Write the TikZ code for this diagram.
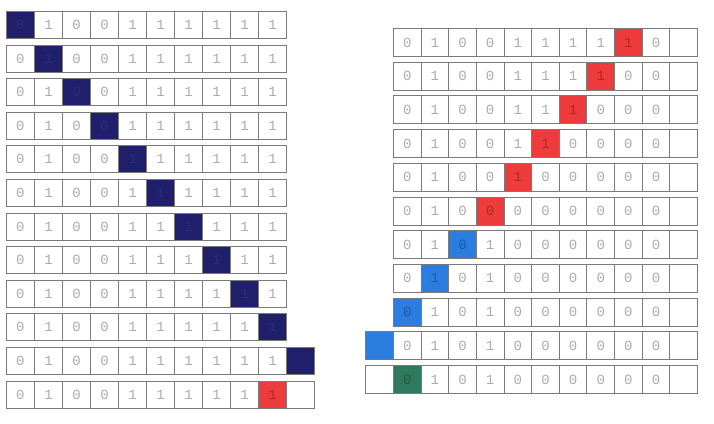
\documentclass[tikz,border=0pt]{standalone}
\usepackage{fontspec}
\newfontfamily\cellfont{Liberation Mono}
\definecolor{navy}{HTML}{1F1F6B}
\definecolor{navytext}{HTML}{2C2C78}
\definecolor{cellred}{HTML}{EE3B3B}
\definecolor{redtext}{HTML}{B02828}
\definecolor{cellblue}{HTML}{2B7DE0}
\definecolor{bluetext}{HTML}{1C5AA8}
\definecolor{cellgreen}{HTML}{2F7A5F}
\definecolor{greentext}{HTML}{225A46}
\definecolor{digit}{HTML}{ABABAB}
\definecolor{framegray}{HTML}{7A7A7A}
\newcommand\leftrow[2]{%
  \foreach \v/\k [count=\c] in {#2} {%
    \node[cell, s\k, minimum width=28pt, minimum height=27pt] (L-#1-\c) at ({6+28*(\c-1)}, {11+33.6*(#1-1)}) {\v};}}
\newcommand\rightrow[3]{%
  \foreach \v/\k [count=\c from #2] in {#3} {%
    \node[cell, s\k, minimum width=27.64pt, minimum height=28pt] (R-#1-\c) at ({365.36+27.64*\c}, {28+33.7*(#1-1)}) {\v};}}
\begin{document}
\begin{tikzpicture}[x=1pt,y=-1pt,
  cell/.style={draw=framegray, line width=0.9pt, inner sep=0pt, anchor=north west,
    font=\cellfont\fontsize{14}{14}\selectfont, text=digit},
  sn/.style={},
  se/.style={},
  sN/.style={fill=navy, text=navytext},
  sR/.style={fill=cellred, text=redtext},
  sB/.style={fill=cellblue, text=bluetext},
  sG/.style={fill=cellgreen, text=greentext}]
\useasboundingbox (0,0) rectangle (714,423);
% left grid
\leftrow{1}{0/N,1/n,0/n,0/n,1/n,1/n,1/n,1/n,1/n,1/n}
\leftrow{2}{0/n,1/N,0/n,0/n,1/n,1/n,1/n,1/n,1/n,1/n}
\leftrow{3}{0/n,1/n,0/N,0/n,1/n,1/n,1/n,1/n,1/n,1/n}
\leftrow{4}{0/n,1/n,0/n,0/N,1/n,1/n,1/n,1/n,1/n,1/n}
\leftrow{5}{0/n,1/n,0/n,0/n,1/N,1/n,1/n,1/n,1/n,1/n}
\leftrow{6}{0/n,1/n,0/n,0/n,1/n,1/N,1/n,1/n,1/n,1/n}
\leftrow{7}{0/n,1/n,0/n,0/n,1/n,1/n,1/N,1/n,1/n,1/n}
\leftrow{8}{0/n,1/n,0/n,0/n,1/n,1/n,1/n,1/N,1/n,1/n}
\leftrow{9}{0/n,1/n,0/n,0/n,1/n,1/n,1/n,1/n,1/N,1/n}
\leftrow{10}{0/n,1/n,0/n,0/n,1/n,1/n,1/n,1/n,1/n,1/N}
\leftrow{11}{0/n,1/n,0/n,0/n,1/n,1/n,1/n,1/n,1/n,1/n,/N}
\leftrow{12}{0/n,1/n,0/n,0/n,1/n,1/n,1/n,1/n,1/n,1/R,/e}
% right grid (column 0 is the cell left of the main block)
\rightrow{1}{1}{0/n,1/n,0/n,0/n,1/n,1/n,1/n,1/n,1/R,0/n,/e}
\rightrow{2}{1}{0/n,1/n,0/n,0/n,1/n,1/n,1/n,1/R,0/n,0/n,/e}
\rightrow{3}{1}{0/n,1/n,0/n,0/n,1/n,1/n,1/R,0/n,0/n,0/n,/e}
\rightrow{4}{1}{0/n,1/n,0/n,0/n,1/n,1/R,0/n,0/n,0/n,0/n,/e}
\rightrow{5}{1}{0/n,1/n,0/n,0/n,1/R,0/n,0/n,0/n,0/n,0/n,/e}
\rightrow{6}{1}{0/n,1/n,0/n,0/R,0/n,0/n,0/n,0/n,0/n,0/n,/e}
\rightrow{7}{1}{0/n,1/n,0/B,1/n,0/n,0/n,0/n,0/n,0/n,0/n,/e}
\rightrow{8}{1}{0/n,1/B,0/n,1/n,0/n,0/n,0/n,0/n,0/n,0/n,/e}
\rightrow{9}{1}{0/B,1/n,0/n,1/n,0/n,0/n,0/n,0/n,0/n,0/n,/e}
\rightrow{10}{0}{/B,0/n,1/n,0/n,1/n,0/n,0/n,0/n,0/n,0/n,0/n,/e}
\rightrow{11}{0}{/e,0/G,1/n,0/n,1/n,0/n,0/n,0/n,0/n,0/n,0/n,/e}
\end{tikzpicture}
\end{document}
